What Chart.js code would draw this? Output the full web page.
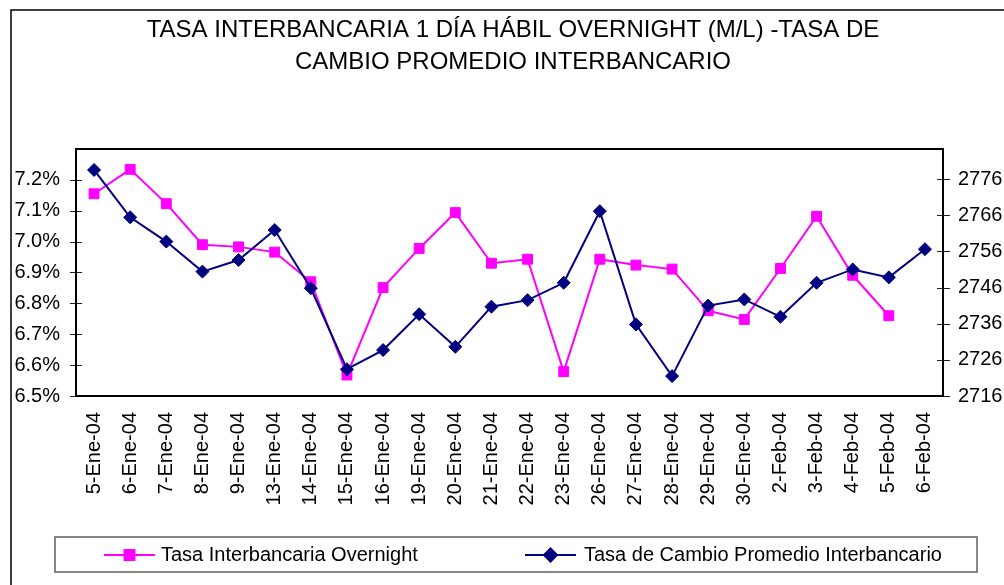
<!DOCTYPE html>
<html>
<head>
<meta charset="utf-8">
<script src="https://cdn.jsdelivr.net/npm/chart.js@4.4.0/dist/chart.umd.min.js"></script>
<style>
  html, body { margin: 0; padding: 0; background: #fff; }
</style>
</head>
<body>
<canvas id="c" width="1004" height="585"></canvas>
<script>
// --- datos ---
const categories = [
  '5-Ene-04', '6-Ene-04', '7-Ene-04', '8-Ene-04', '9-Ene-04', '13-Ene-04', '14-Ene-04',
  '15-Ene-04', '16-Ene-04', '19-Ene-04', '20-Ene-04', '21-Ene-04', '22-Ene-04', '23-Ene-04',
  '26-Ene-04', '27-Ene-04', '28-Ene-04', '29-Ene-04', '30-Ene-04', '2-Feb-04', '3-Feb-04',
  '4-Feb-04', '5-Feb-04', '6-Feb-04'
];
// tasa overnight (%), sin dato el 6-Feb
const overnight = [
  7.155, 7.234, 7.123, 6.990, 6.983, 6.966, 6.870, 6.568, 6.851, 6.978, 7.094, 6.930,
  6.943, 6.579, 6.943, 6.924, 6.911, 6.776, 6.748, 6.913, 7.082, 6.891, 6.760, null
];
// tasa de cambio promedio interbancario
const tipoCambio = [
  2778.5, 2765.4, 2758.7, 2750.4, 2753.6, 2761.9, 2745.8, 2723.4, 2728.7, 2738.6, 2729.6, 2740.7,
  2742.5, 2747.3, 2767.1, 2735.8, 2721.5, 2741.0, 2742.7, 2737.9, 2747.3, 2751.0, 2748.8, 2756.6
];
const leftTicks = [6.5, 6.6, 6.7, 6.8, 6.9, 7.0, 7.1, 7.2];
const rightTicks = [2716, 2726, 2736, 2746, 2756, 2766, 2776];
const titleLines = [
  'TASA INTERBANCARIA 1 DÍA HÁBIL OVERNIGHT (M/L) -TASA DE',
  'CAMBIO PROMEDIO INTERBANCARIO'
];
const seriesNames = ['Tasa Interbancaria Overnight', 'Tasa de Cambio Promedio Interbancario'];

const FONT = '"Liberation Sans", Arial, sans-serif';
const PINK = '#FF00FF';
const NAVY = '#000080';

// --- marco, ticks cruzados y leyenda con caja ---
const frame = {
  id: 'frame',
  beforeDraw(chart) {
    const ctx = chart.ctx;
    ctx.save();
    ctx.fillStyle = '#fff';
    ctx.fillRect(0, 0, chart.width, chart.height);
    ctx.restore();
  },
  beforeDatasetsDraw(chart) {
    const ctx = chart.ctx;
    const a = chart.chartArea;
    ctx.save();
    ctx.strokeStyle = '#222';
    ctx.lineWidth = 1;
    const yl = chart.scales.y, yr = chart.scales.y1;
    yl.ticks.forEach(t => {
      const py = Math.round(yl.getPixelForValue(t.value)) + 0.5;
      ctx.beginPath(); ctx.moveTo(a.left - 6, py); ctx.lineTo(a.left + 6, py); ctx.stroke();
    });
    yr.ticks.forEach(t => {
      const py = Math.round(yr.getPixelForValue(t.value)) + 0.5;
      ctx.beginPath(); ctx.moveTo(a.right - 6, py); ctx.lineTo(a.right + 7, py); ctx.stroke();
    });
    ctx.strokeStyle = '#000';
    ctx.lineWidth = 2;
    ctx.strokeRect(a.left, a.top, a.right - a.left, a.bottom - a.top);
    ctx.restore();
  },
  afterDraw(chart) {
    const ctx = chart.ctx;
    const h = Chart.helpers;
    ctx.save();
    // borde exterior del grafico
    ctx.strokeStyle = '#000';
    ctx.lineWidth = 1.5;
    ctx.strokeRect(11, 10, 1100, 700);
    // caja de leyenda
    ctx.strokeStyle = '#606060';
    ctx.lineWidth = 1.5;
    ctx.strokeRect(55, 537, 922, 35);
    const items = [{x: 104, tx: 161}, {x: 525, tx: 584}];
    const yMid = 555;
    chart.data.datasets.forEach((ds, i) => {
      const it = items[i];
      ctx.strokeStyle = ds.borderColor;
      ctx.lineWidth = 2;
      ctx.beginPath(); ctx.moveTo(it.x, yMid); ctx.lineTo(it.x + 51, yMid); ctx.stroke();
      ctx.fillStyle = ds.pointBackgroundColor;
      ctx.strokeStyle = ds.borderColor;
      h.drawPoint(ctx, {pointStyle: ds.pointStyle, radius: ds.pointRadius, borderWidth: 1, rotation: 0},
        it.x + 25.5, yMid);
      ctx.fillStyle = '#000';
      ctx.font = '20px ' + FONT;
      ctx.textBaseline = 'middle';
      ctx.textAlign = 'left';
      ctx.fillText(ds.label, it.tx, yMid);
    });
    ctx.restore();
  }
};

new Chart(document.getElementById('c'), {
  type: 'line',
  data: {
    labels: categories,
    datasets: [
      {
        label: seriesNames[0],
        data: overnight,
        yAxisID: 'y',
        order: 2,
        borderColor: PINK,
        backgroundColor: PINK,
        pointBackgroundColor: PINK,
        pointBorderColor: PINK,
        borderWidth: 2,
        pointStyle: 'rect',
        pointRadius: 7,
        pointBorderWidth: 1,
        tension: 0,
        spanGaps: false
      },
      {
        label: seriesNames[1],
        data: tipoCambio,
        yAxisID: 'y1',
        order: 1,
        borderColor: NAVY,
        backgroundColor: NAVY,
        pointBackgroundColor: NAVY,
        pointBorderColor: NAVY,
        borderWidth: 2,
        pointStyle: 'rectRot',
        pointRadius: 6.5,
        pointBorderWidth: 1,
        tension: 0
      }
    ]
  },
  options: {
    responsive: false,
    animation: false,
    events: [],
    // padding derecho negativo: centra el titulo en x~513 como en el original
    layout: { padding: { top: 10, left: 0, right: -22, bottom: 0 } },
    plugins: {
      legend: { display: false },
      tooltip: { enabled: false },
      title: {
        display: true,
        text: titleLines,
        color: '#000',
        font: { family: FONT, size: 24, weight: 'normal', lineHeight: 1.3333 },
        padding: { top: 4, bottom: 71 }
      }
    },
    scales: {
      x: {
        type: 'category',
        offset: true,
        grid: { display: false, drawTicks: false },
        border: { display: false },
        ticks: {
          autoSkip: false, minRotation: 90, maxRotation: 90, padding: 16,
          color: '#000', font: { family: FONT, size: 20 }
        },
        afterFit(s) { s.height = 189; }
      },
      y: {
        position: 'left',
        min: 6.5,
        max: 7.3,
        grid: { display: false, drawTicks: false },
        border: { display: false },
        afterBuildTicks(s) { s.ticks = leftTicks.map(v => ({ value: v })); },
        ticks: {
          padding: 16, color: '#000', font: { family: FONT, size: 20 },
          callback: v => Number(v).toFixed(1) + '%'
        },
        afterFit(s) { s.width = 76; }
      },
      y1: {
        position: 'right',
        min: 2716,
        max: 2784.3,
        grid: { display: false, drawTicks: false },
        border: { display: false },
        afterBuildTicks(s) { s.ticks = rightTicks.map(v => ({ value: v })); },
        ticks: {
          padding: 15, color: '#000', font: { family: FONT, size: 20 },
          callback: v => String(v)
        },
        afterFit(s) { s.width = 83; }
      }
    }
  },
  plugins: [frame]
});
</script>
</body>
</html>
